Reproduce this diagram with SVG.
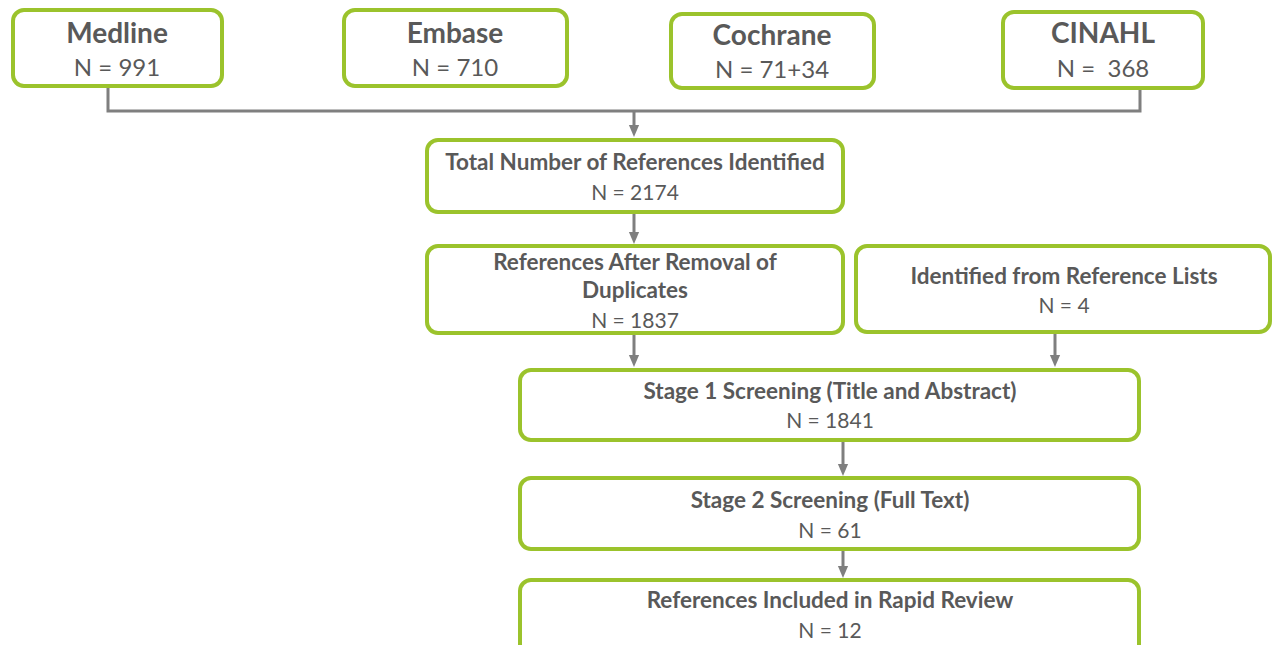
<svg xmlns="http://www.w3.org/2000/svg" width="1272" height="645" viewBox="0 0 1272 645">
<defs>
<marker id="ah" markerWidth="4" markerHeight="4" refX="2" refY="2" orient="auto" markerUnits="strokeWidth">
<path d="M0,0.3 L4,2 L0,3.7 Z" fill="#7f7f7f"/>
</marker>
<style>
.box{fill:#fff;stroke:#9bc32c;stroke-width:4}
.t{font-family:Lato,"Open Sans",sans-serif;fill:#595959;text-anchor:middle}
.big{font-size:28px;font-weight:bold}
.bn{font-size:24px}
.h{font-size:22.5px;font-weight:bold}
.n{font-size:21px}
.c{fill:none;stroke:#7f7f7f;stroke-width:3}
</style>
</defs>
<rect width="1272" height="645" fill="#fff"/>
<g id="connectors">
<path class="c" d="M108,88 V111 H1140 V88"/>
<path class="c" d="M634,111 V131" marker-end="url(#ah)"/>
<path class="c" d="M634,213 V238" marker-end="url(#ah)"/>
<path class="c" d="M634,334 V361" marker-end="url(#ah)"/>
<path class="c" d="M1055,334 V361" marker-end="url(#ah)"/>
<path class="c" d="M843,442 V470" marker-end="url(#ah)"/>
<path class="c" d="M843,550 V572" marker-end="url(#ah)"/>
</g>
<g id="medline">
<rect class="box" x="13" y="10" width="209" height="76" rx="11"/>
<text class="t big" x="117" y="43">Medline</text>
<text class="t bn" x="117" y="76">N = 991</text>
</g>
<g id="embase">
<rect class="box" x="344" y="10" width="223" height="76" rx="11"/>
<text class="t big" x="455" y="43">Embase</text>
<text class="t bn" x="455" y="76">N = 710</text>
</g>
<g id="cochrane">
<rect class="box" x="671" y="14" width="203" height="74" rx="11"/>
<text class="t big" x="772" y="45">Cochrane</text>
<text class="t bn" x="772" y="78">N = 71+34</text>
</g>
<g id="cinahl">
<rect class="box" x="1003" y="12" width="200" height="76" rx="11"/>
<text class="t big" x="1103" y="43">CINAHL</text>
<text class="t bn" x="1103" y="77">N =&#160; 368</text>
</g>
<g id="total">
<rect class="box" x="427" y="140" width="416" height="72" rx="11"/>
<text class="t h" x="635" y="170">Total Number of References Identified</text>
<text class="t n" x="635" y="200">N = 2174</text>
</g>
<g id="dedup">
<rect class="box" x="427" y="246" width="416" height="87" rx="11"/>
<text class="t h" x="635" y="270">References After Removal of</text>
<text class="t h" x="635" y="298">Duplicates</text>
<text class="t n" x="635" y="328">N = 1837</text>
</g>
<g id="reflists">
<rect class="box" x="856" y="246" width="414" height="86" rx="11"/>
<text class="t h" x="1064" y="284">Identified from Reference Lists</text>
<text class="t n" x="1064" y="313">N = 4</text>
</g>
<g id="stage1">
<rect class="box" x="520" y="370" width="619" height="70" rx="11"/>
<text class="t h" x="830" y="399">Stage 1 Screening (Title and Abstract)</text>
<text class="t n" x="830" y="428">N = 1841</text>
</g>
<g id="stage2">
<rect class="box" x="520" y="478" width="619" height="71" rx="11"/>
<text class="t h" x="830" y="508">Stage 2 Screening (Full Text)</text>
<text class="t n" x="830" y="538">N = 61</text>
</g>
<g id="included">
<rect class="box" x="520" y="580" width="619" height="75" rx="11"/>
<text class="t h" x="830" y="608">References Included in Rapid Review</text>
<text class="t n" x="830" y="638">N = 12</text>
</g>
</svg>
